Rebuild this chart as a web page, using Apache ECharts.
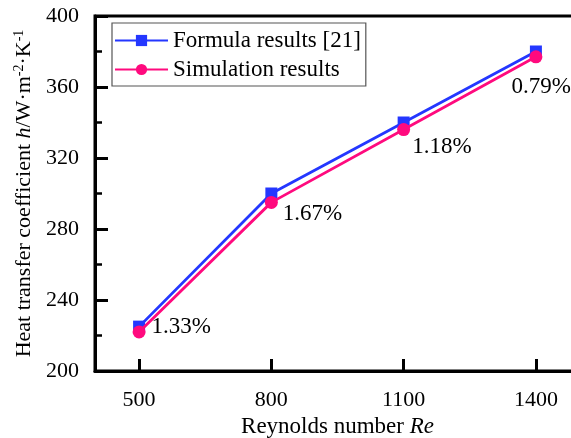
<!DOCTYPE html>
<html>
<head>
<meta charset="utf-8">
<script src="https://cdn.jsdelivr.net/npm/echarts@6/dist/echarts.min.js"></script>
<style>
html, body { margin: 0; padding: 0; background: #fff; }
#chart { width: 571px; height: 438px; }
</style>
</head>
<body>
<div id="chart"></div>
<script>
// data
var reynolds = [500, 800, 1100, 1400];
var formulaResults = [225, 300, 340, 380];
var simulationResults = [222, 295, 336, 377];
var deviations = ['1.33%', '1.67%', '1.18%', '0.79%'];
var yTicks = [200, 240, 280, 320, 360, 400];

var font = 'Liberation Serif';
// label placement next to each simulation point
var labelOffsets = [[1, -5], [0, 12], [-3, 17], [-36, 30]];

var dom = document.getElementById('chart');
var myChart = echarts.init(dom, null, { renderer: 'canvas' });

var simData = reynolds.map(function (x, i) {
  return {
    value: [x, simulationResults[i]],
    label: {
      show: true,
      position: 'right',
      offset: labelOffsets[i],
      formatter: deviations[i],
      color: '#000',
      fontFamily: font,
      fontSize: 23
    }
  };
});

var option = {
  animation: false,
  textStyle: { fontFamily: font },
  grid: {
    left: 95, top: 16, right: -9, bottom: 67,
    containLabel: false,
    outerBoundsMode: 'none',
    show: true, borderColor: '#000', borderWidth: 3, backgroundColor: 'transparent'
  },
  legend: {
    orient: 'vertical',
    left: 112, top: 23,
    padding: [6, 5, 5, 2],
    itemWidth: 53, itemHeight: 14, itemGap: 6,
    borderColor: '#555', borderWidth: 1.2,
    textStyle: { fontFamily: font, fontSize: 23, color: '#000' },
    data: ['Formula results [21]', 'Simulation results']
  },
  xAxis: {
    type: 'value',
    min: 400, max: 1500,
    name: '{n|Reynolds number }{i|Re}',
    nameLocation: 'middle',
    nameGap: 41,
    nameTextStyle: {
      rich: {
        n: { fontFamily: font, fontSize: 23, color: '#000' },
        i: { fontFamily: font, fontSize: 23, color: '#000', fontStyle: 'italic' }
      }
    },
    axisLine: { lineStyle: { color: '#000', width: 3 } },
    axisTick: { show: true, inside: true, length: 12, lineStyle: { color: '#000', width: 3 }, customValues: reynolds },
    axisLabel: {
      color: '#000', fontFamily: font, fontSize: 22, margin: 18, customValues: reynolds,
      formatter: function (v) { return String(v); }
    },
    splitLine: { show: false }
  },
  yAxis: {
    type: 'value',
    min: 200, max: 400, interval: 40,
    name: '{n|Heat transfer coefficient }{i|h}{n|/W·m}{s|-2}{n|·K}{s|-1}',
    nameLocation: 'middle',
    nameGap: 58,
    nameTextStyle: {
      rich: {
        n: { fontFamily: font, fontSize: 22, color: '#000' },
        i: { fontFamily: font, fontSize: 22, color: '#000', fontStyle: 'italic' },
        s: { fontFamily: font, fontSize: 14, color: '#000', verticalAlign: 'top', padding: [0, 0, 10, 0] }
      }
    },
    axisLine: { show: true, lineStyle: { color: '#000', width: 3 } },
    axisTick: { show: true, inside: true, length: 13, lineStyle: { color: '#000', width: 3 } },
    minorTick: { show: true, splitNumber: 2, length: 7, lineStyle: { color: '#000', width: 2.5 } },
    axisLabel: {
      color: '#000', fontFamily: font, fontSize: 22, margin: 16,
      formatter: function (v) { return yTicks.indexOf(v) >= 0 ? String(v) : ''; }
    },
    splitLine: { show: false }
  },
  series: [
    {
      name: 'Formula results [21]',
      type: 'line',
      data: reynolds.map(function (x, i) { return [x, formulaResults[i]]; }),
      symbol: 'rect',
      symbolSize: 12,
      lineStyle: { color: '#2437ff', width: 2.8 },
      itemStyle: { color: '#2437ff' },
      z: 2
    },
    {
      name: 'Simulation results',
      type: 'line',
      data: simData,
      symbol: 'circle',
      symbolSize: 13,
      lineStyle: { color: '#ff0a7e', width: 2.8 },
      itemStyle: { color: '#ff0a7e' },
      z: 3
    }
  ]
};

myChart.setOption(option);
window.addEventListener('resize', myChart.resize);
</script>
</body>
</html>
